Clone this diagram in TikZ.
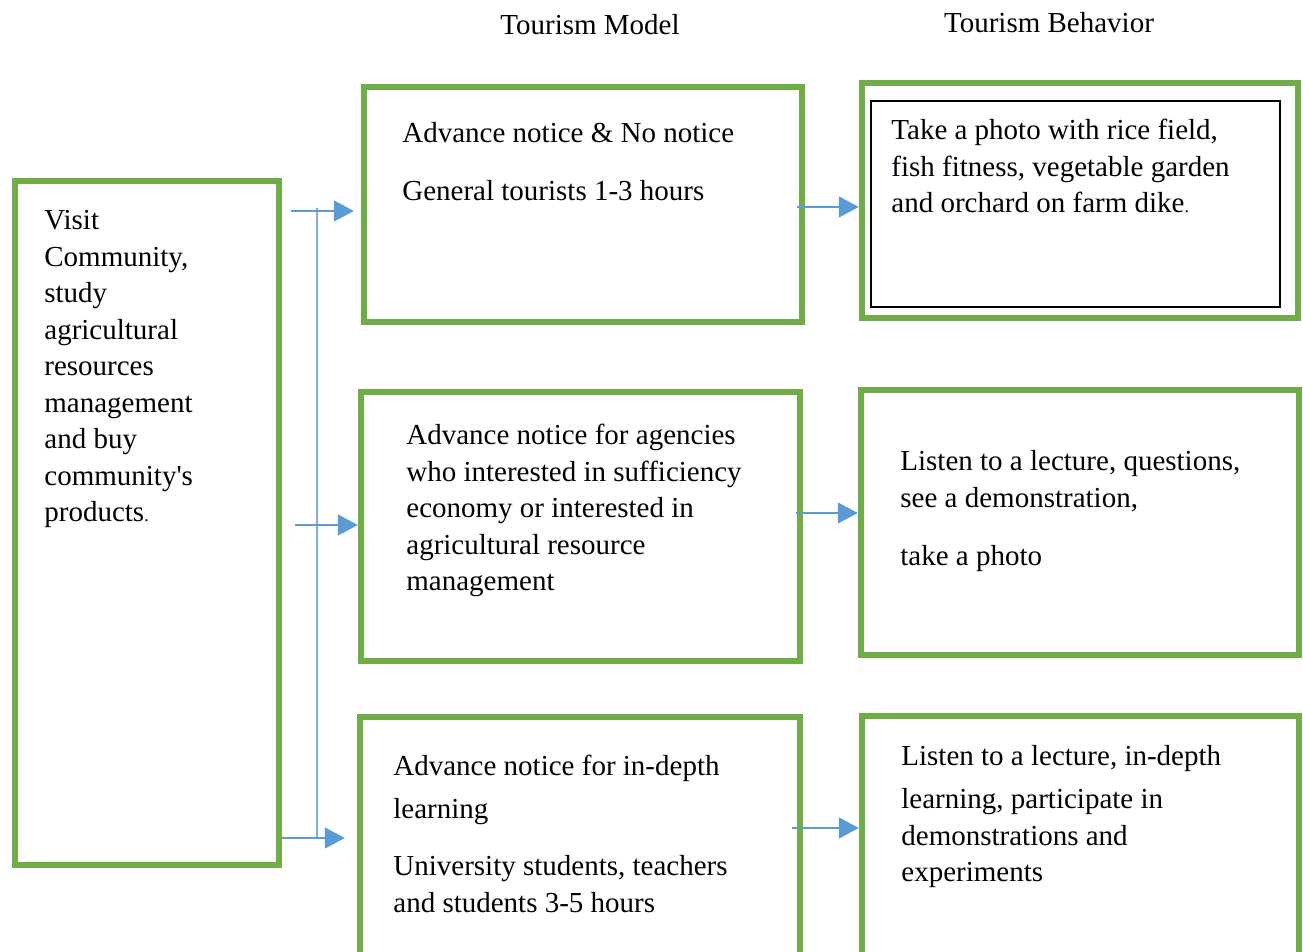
\documentclass[tikz,border=0pt]{standalone}
\usepackage{fontspec}
\setmainfont{Liberation Serif}
\usetikzlibrary{arrows.meta}
\usetikzlibrary{fit}
\definecolor{boxgreen}{RGB}{112,173,71}
\definecolor{arrowblue}{RGB}{91,155,213}
\tikzset{
  gbox/.style={draw=boxgreen, line width=3.2pt, inner sep=0pt},
  thinbox/.style={draw=black, line width=0.7pt, inner sep=0pt},
  txt/.style={anchor=north west, inner sep=0pt, align=left},
  ttl/.style={inner sep=0pt},
  arr/.style={draw=arrowblue, line width=0.75pt, -{Triangle[length=10pt,width=10.5pt]}},
  trunk/.style={draw=arrowblue!80, line width=0.6pt}
}

\begin{document}
\begin{tikzpicture}[x=0.5pt,y=-0.5pt,font=\fontsize{14.5}{18.25}\selectfont]
      \clip (0,0) rectangle (1303,952);

      % column titles
      \node[ttl] (tmodel) at (590,25) {Tourism Model};
      \node[ttl] (tbehav) at (1049,23) {Tourism Behavior};

      % boxes
      \node[gbox, fit={(15,181) (279,865)}] (visit) {};
      \node[gbox, fit={(364,87) (802,322)}] (model1) {};
      \node[gbox, fit={(361,392) (800,661)}] (model2) {};
      \node[gbox, fit={(360,717) (800,975)}] (model3) {};
      \node[gbox, fit={(862,83) (1298,318)}] (behav1) {};
      \node[thinbox, fit={(871,101) (1280,307)}] (behav1in) {};
      \node[gbox, fit={(861,390) (1299,655)}] (behav2) {};
      \node[gbox, fit={(862,716) (1299,975)}] (behav3) {};

      % texts
      \node[txt] (visittxt) at (44,210) {Visit\\Community,\\study\\agricultural\\resources\\management\\and buy\\community\textquotesingle s\\products{\fontsize{9}{9}\selectfont.}};
      \node[txt] (m1txt) at (402,122) {Advance notice \& No notice\\[10.75pt]General tourists 1-3 hours};
      \node[txt] (m2txt) at (406,424) {Advance notice for agencies\\who interested in sufficiency\\economy or interested in\\agricultural resource\\management};
      \node[txt] (m3txt) at (393,755) {Advance notice for in-depth\\[3.25pt]learning\\[10.25pt]University students, teachers\\and students 3-5 hours};
      \node[txt] (b1txt) at (891,119) {Take a photo with rice field,\\fish fitness, vegetable garden\\and orchard on farm dike{\fontsize{9}{9}\selectfont.}};
      \node[txt] (b2txt) at (900,450) {Listen to a lecture, questions,\\see a demonstration,\\[10.75pt]take a photo};
      \node[txt] (b3txt) at (901,745) {Listen to a lecture, in-depth\\[3.25pt]learning, participate in\\demonstrations and\\experiments};

      % left connectors
      \coordinate (t1) at (317,208);
      \coordinate (t3) at (317,838);
      \draw[trunk] (t1) -- (t3);
      \coordinate (a1) at (291,211);
      \coordinate (a2) at (295,525);
      \coordinate (a3) at (visit.east |- t3);
      \draw[arr, shorten >=3.5pt] (a1) -- (a1 -| model1.west);
      \draw[arr] (a2) -- (a2 -| model2.west);
      \draw[arr, shorten >=6pt] (a3) -- (a3 -| model3.west);

      % right connectors
      \coordinate (r1) at (797,207);
      \coordinate (r2) at (796,513);
      \coordinate (r3) at (792,828);
      \draw[arr] (r1) -- (r1 -| behav1.west);
      \draw[arr] (r2) -- (r2 -| behav2.west);
      \draw[arr] (r3) -- (r3 -| behav3.west);

\end{tikzpicture}
\end{document}
